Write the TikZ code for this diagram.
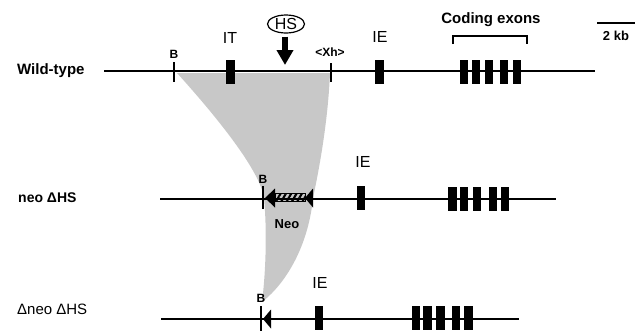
\documentclass[tikz,border=0pt]{standalone}
\usepackage{fontspec}
\setmainfont{Liberation Sans}
\usetikzlibrary{arrows.meta,patterns.meta,shapes.geometric}
\definecolor{delfill}{RGB}{200,200,200}
\begin{document}
\begin{tikzpicture}[x=1pt,y=-1pt,
  exon/.style={fill=black,minimum width=8.5pt,minimum height=24pt,inner sep=0pt},
  dna/.style={line width=1.1pt},
  site/.style={line width=1.4pt},
  rowlab/.style={inner sep=0pt,anchor=west,font=\fontsize{15}{15}\selectfont},
  exlab/.style={inner sep=0pt,font=\fontsize{16}{16}\selectfont},
  sitelab/.style={inner sep=0pt,font=\fontsize{12}{12}\selectfont\bfseries},
  loxtri/.style={fill=black}
]
\useasboundingbox (0,0) rectangle (638,330);

% deleted region, projected from the wild-type locus down to the targeted alleles
\fill[delfill] (177,73) -- (330,73)
  .. controls (328,120) and (320,165) .. (313,198)
  .. controls (309,240) and (290,280) .. (262,302)
  .. controls (266,270) and (267,230) .. (264,198)
  .. controls (260,170) and (215,115) .. (177,73) -- cycle;

% ---------------- wild-type locus ----------------
\node[rowlab,font=\fontsize{15}{15}\selectfont\bfseries] (wtlab) at (17,71) {Wild-type};
\coordinate (wtL) at (104,71);
\coordinate (wtR) at (595,71);
\draw[dna] (wtL) -- (wtR);

\draw[site] (174,62) -- (174,82);
\node[sitelab] (wtB) at (174,54) {B};
\draw[site] (331,63) -- (331,82);
\node[sitelab] (wtXh) at (330,52) {<Xh>};

\node[exon] (wtIT) at (230.5,72) {};
\node[exlab] (wtITlab) at (230,38) {IT};
\node[exon] (wtIE) at (379.5,72) {};
\node[exlab] (wtIElab) at (380,37) {IE};
\foreach \x [count=\i] in {464,476,489,504,517}
  \node[exon] (wtC\i) at (\x,72) {};

% coding exon bracket and label
\draw[line width=1.2pt] (453,44) -- (453,36) -- (527,36) -- (527,44);
\node[inner sep=0pt,font=\fontsize{15}{15}\selectfont\bfseries] (codlab) at (491,20) {Coding exons};

% scale bar
\coordinate (sbL) at (597,23);
\coordinate (sbR) at (635,23);
\draw[line width=1.4pt] (sbL) -- (sbR);
\node[inner sep=0pt,font=\fontsize{13}{13}\selectfont\bfseries] (sblab) at (616,36) {2 kb};

% hypersensitive site
\node[ellipse,draw,line width=1.2pt,minimum width=37pt,minimum height=18pt,inner sep=0pt,
  font=\fontsize{16}{16}\selectfont] (hs) at (286,24) {HS};
\coordinate (hstip) at (285,65);
\draw[line width=5.5pt,-{Triangle[width=16pt,length=15pt]},shorten <=3pt] (hs.south -| hstip) -- (hstip);

% ---------------- neo / delta HS allele ----------------
\node[rowlab,font=\fontsize{14}{14}\selectfont\bfseries] (neolab) at (18,198) {neo ΔHS};
\coordinate (neoL) at (160,199);
\coordinate (neoR) at (556,199);
\draw[dna] (neoL) -- (neoR);

\node[draw,line width=0.9pt,minimum width=30pt,minimum height=8pt,inner sep=0pt,
  pattern={Lines[angle=60,distance=4.6pt,line width=2.1pt]}] (neobar) at (290,197.5) {};
\fill[loxtri] (265,198) -- (275,188.5) -- (275,207.5) -- cycle;
\fill[loxtri] (305,198) -- (313,188.5) -- (313,207.5) -- cycle;
\draw[site] (263,186) -- (263,209);
\node[sitelab] (neoB) at (263,179) {B};
\node[inner sep=0pt,font=\fontsize{13}{13}\selectfont\bfseries] (neotxt) at (287,224) {Neo};

\node[exon] (neoIE) at (361,198) {};
\node[exlab] (neoIElab) at (363,162) {IE};
\foreach \x [count=\i] in {452.5,464,477,493,505}
  \node[exon] (neoC\i) at (\x,198.5) {};

% ---------------- delta neo / delta HS allele ----------------
\node[rowlab] (dnlab) at (17,309) {Δneo ΔHS};
\coordinate (dnL) at (161,319);
\coordinate (dnR) at (519,319);
\draw[dna] (dnL) -- (dnR);

\fill[loxtri] (263,319) -- (271,309.5) -- (271,328.5) -- cycle;
\draw[site] (261,306) -- (261,331);
\node[sitelab] (dnB) at (261,298) {B};

\node[exon] (dnIE) at (319,318) {};
\node[exlab] (dnIElab) at (320,283) {IE};
\foreach \x [count=\i] in {416,427.5,440.5,456,468.5}
  \node[exon] (dnC\i) at (\x,318) {};
\end{tikzpicture}
\end{document}
